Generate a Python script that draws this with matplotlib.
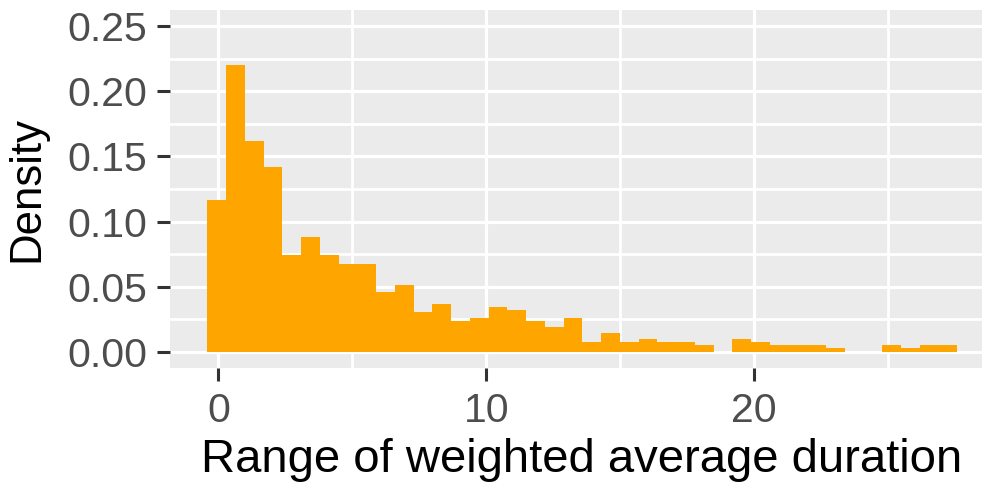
import matplotlib
matplotlib.use("Agg")
import matplotlib.pyplot as plt
import numpy as np

# histogram of the range of weighted average duration (ggplot-style)
bin_start = -0.41
bin_width = 0.7
density = [
    0.1164, 0.2202, 0.1622, 0.1416, 0.0744, 0.0882, 0.0744, 0.0676,
    0.0676, 0.0462, 0.0515, 0.0302, 0.0370, 0.0233, 0.0256, 0.0347,
    0.0324, 0.0233, 0.0187, 0.0256, 0.0073, 0.0141, 0.0073, 0.0095,
    0.0073, 0.0073, 0.0050, 0.0000, 0.0095, 0.0073, 0.0050, 0.0050,
    0.0050, 0.0025, 0.0000, 0.0000, 0.0050, 0.0025, 0.0050, 0.0050,
]
x_ticks = [0, 10, 20]
y_ticks = [0.00, 0.05, 0.10, 0.15, 0.20, 0.25]
y_tick_labels = ["0.00", "0.05", "0.10", "0.15", "0.20", "0.25"]

plt.rcParams["font.family"] = ["Liberation Sans", "DejaVu Sans"]

W, H = 982, 483
fig = plt.figure(figsize=(W / 100, H / 100), dpi=100)
ax = fig.add_axes([170 / W, 1 - 368 / H, 824 / W, 358 / H])

edges = bin_start + bin_width * np.arange(len(density))
ax.bar(edges, density, width=bin_width, align="edge", color="#FFA500",
       linewidth=0, zorder=3)

ax.set_facecolor("#EBEBEB")
for s in ax.spines.values():
    s.set_visible(False)

ax.set_xlim(-1.81, 28.96)
ax.set_ylim(-0.0125, 0.2625)
ax.set_xticks(x_ticks)
ax.set_xticks([5, 15, 25], minor=True)
ax.set_yticks(y_ticks)
ax.set_yticklabels(y_tick_labels)
ax.set_yticks([0.025, 0.075, 0.125, 0.175, 0.225], minor=True)

ax.grid(which="major", color="white", linewidth=2.3, zorder=1)
ax.grid(which="minor", color="white", linewidth=2.0, zorder=1)
ax.set_axisbelow(True)

ax.tick_params(which="major", length=9.4, width=2.2, color="#333333",
               labelsize=29.5, labelcolor="#4D4D4D")
ax.tick_params(axis="x", pad=8)
ax.tick_params(axis="y", pad=7)
ax.tick_params(which="minor", length=0)

ax.set_xlabel("Range of weighted average duration", fontsize=34,
              color="black", labelpad=6)
ax.set_ylabel("Density", fontsize=31.5, color="black", labelpad=14)

fig.savefig("out.png", dpi=100)
